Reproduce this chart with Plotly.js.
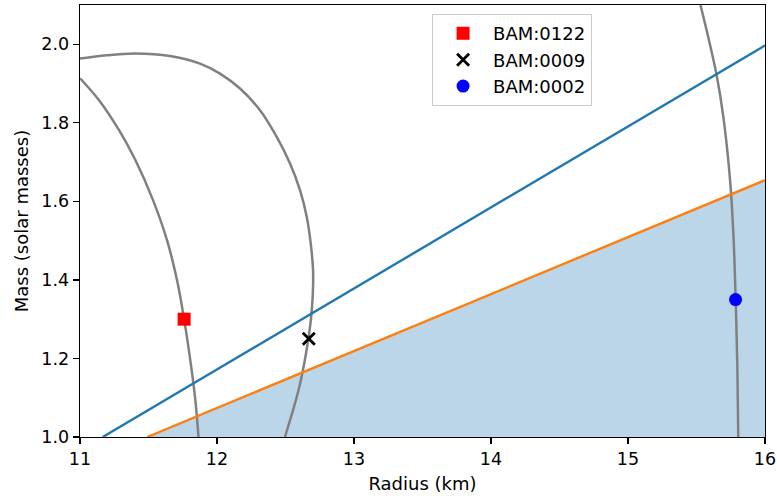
<!DOCTYPE html>
<html>
<head>
<meta charset="utf-8">
<script src="https://cdn.plot.ly/plotly-3.0.1.min.js"></script>
<style>html,body{margin:0;padding:0;background:#fff;}#chart{width:777px;height:496px;}</style>
</head>
<body>
<div id="chart"></div>
<script>
// Gray contour curves (Radius km, Mass solar masses)
const curveA_R = [11.0, 11.139, 11.285, 11.405, 11.533, 11.635, 11.708, 11.761, 11.805, 11.842, 11.865];
const curveA_M = [1.9135, 1.8575, 1.7812, 1.7048, 1.6031, 1.5013, 1.3995, 1.2977, 1.1959, 1.0941, 1.0];

const curveB_R = [11.0, 11.195, 11.401, 11.657, 11.876, 12.022, 12.168, 12.314, 12.436, 12.533, 12.606, 12.655, 12.684, 12.701, 12.699, 12.685, 12.654, 12.599, 12.496];
const curveB_M = [1.9636, 1.9720, 1.9763, 1.9702, 1.9509, 1.9254, 1.8873, 1.8321, 1.7641, 1.6964, 1.6285, 1.5606, 1.4929, 1.4249, 1.3613, 1.2977, 1.2214, 1.1247, 1.0];

const curveC_R = [15.529, 15.591, 15.647, 15.696, 15.745, 15.769, 15.786, 15.798, 15.805];
const curveC_M = [2.1, 2.0102, 1.9211, 1.8150, 1.6539, 1.5183, 1.3486, 1.1789, 1.0];

// Straight lines
const blueLine_R = [11.166, 16.0];
const blueLine_M = [1.0, 1.997];
const orangeLine_R = [11.491, 16.0];
const orangeLine_M = [1.0, 1.654];

// Marked points
const pointNames = ["BAM:0122", "BAM:0009", "BAM:0002"];
const pointR = [11.76, 12.67, 15.785];
const pointM = [1.30, 1.25, 1.35];

const yTicks = [1.0, 1.2, 1.4, 1.6, 1.8, 2.0];
const xTicks = [11, 12, 13, 14, 15, 16];

const gray = {color: '#808080', width: 2.5, shape: 'spline', smoothing: 1};

const traces = [
  {x: orangeLine_R, y: orangeLine_M, mode: 'lines', fill: 'tozeroy', fillcolor: 'rgba(31,119,180,0.3)', line: {width: 0, color: 'rgba(0,0,0,0)'}, showlegend: false, hoverinfo: 'skip'},
  {x: curveA_R, y: curveA_M, mode: 'lines', line: gray, showlegend: false},
  {x: curveB_R, y: curveB_M, mode: 'lines', line: gray, showlegend: false},
  {x: curveC_R, y: curveC_M, mode: 'lines', line: gray, showlegend: false},
  {x: blueLine_R, y: blueLine_M, mode: 'lines', line: {color: '#1f77b4', width: 2.4}, showlegend: false},
  {x: orangeLine_R, y: orangeLine_M, mode: 'lines', line: {color: '#ff7f0e', width: 2.4}, showlegend: false},
  {x: [pointR[0]], y: [pointM[0]], name: pointNames[0], mode: 'markers', marker: {symbol: 'square', size: 13, color: '#ff0000'}},
  {x: [pointR[1]], y: [pointM[1]], name: pointNames[1], mode: 'markers', marker: {symbol: 'x-thin', size: 12, color: '#000000', line: {color: '#000000', width: 2.8}}},
  {x: [pointR[2]], y: [pointM[2]], name: pointNames[2], mode: 'markers', marker: {symbol: 'circle', size: 13, color: '#0000ff'}}
];

const axisCommon = {
  showline: true, mirror: true, linecolor: '#000', linewidth: 1.3,
  ticks: 'outside', ticklen: 6, tickwidth: 1.3, tickcolor: '#000',
  showgrid: false, zeroline: false,
  tickfont: {family: 'DejaVu Sans', size: 17.5, color: '#000'}
};

const layout = {
  width: 777, height: 496,
  margin: {l: 80, r: 12, t: 5, b: 59},
  paper_bgcolor: '#fff', plot_bgcolor: '#fff',
  font: {family: 'DejaVu Sans', color: '#000'},
  xaxis: Object.assign({}, axisCommon, {
    range: [11, 16], tickvals: xTicks, ticktext: xTicks.map(String),
    title: {text: 'Radius (km)', font: {family: 'DejaVu Sans', size: 18, color: '#000'}, standoff: 9}
  }),
  yaxis: Object.assign({}, axisCommon, {
    range: [1.0, 2.1], tickvals: yTicks, ticktext: yTicks.map(v => v.toFixed(1)),
    title: {text: 'Mass (solar masses)', font: {family: 'DejaVu Sans', size: 18, color: '#000'}, standoff: 8}
  }),
  legend: {
    x: 0.514, y: 0.979, xanchor: 'left', yanchor: 'top',
    bgcolor: 'rgba(255,255,255,0.8)', bordercolor: '#cccccc', borderwidth: 1,
    itemwidth: 50,
    font: {family: 'DejaVu Sans', size: 18, color: '#000'}
  },
  showlegend: true
};

Plotly.newPlot('chart', traces, layout, {displayModeBar: false, staticPlot: true});
</script>
</body>
</html>
